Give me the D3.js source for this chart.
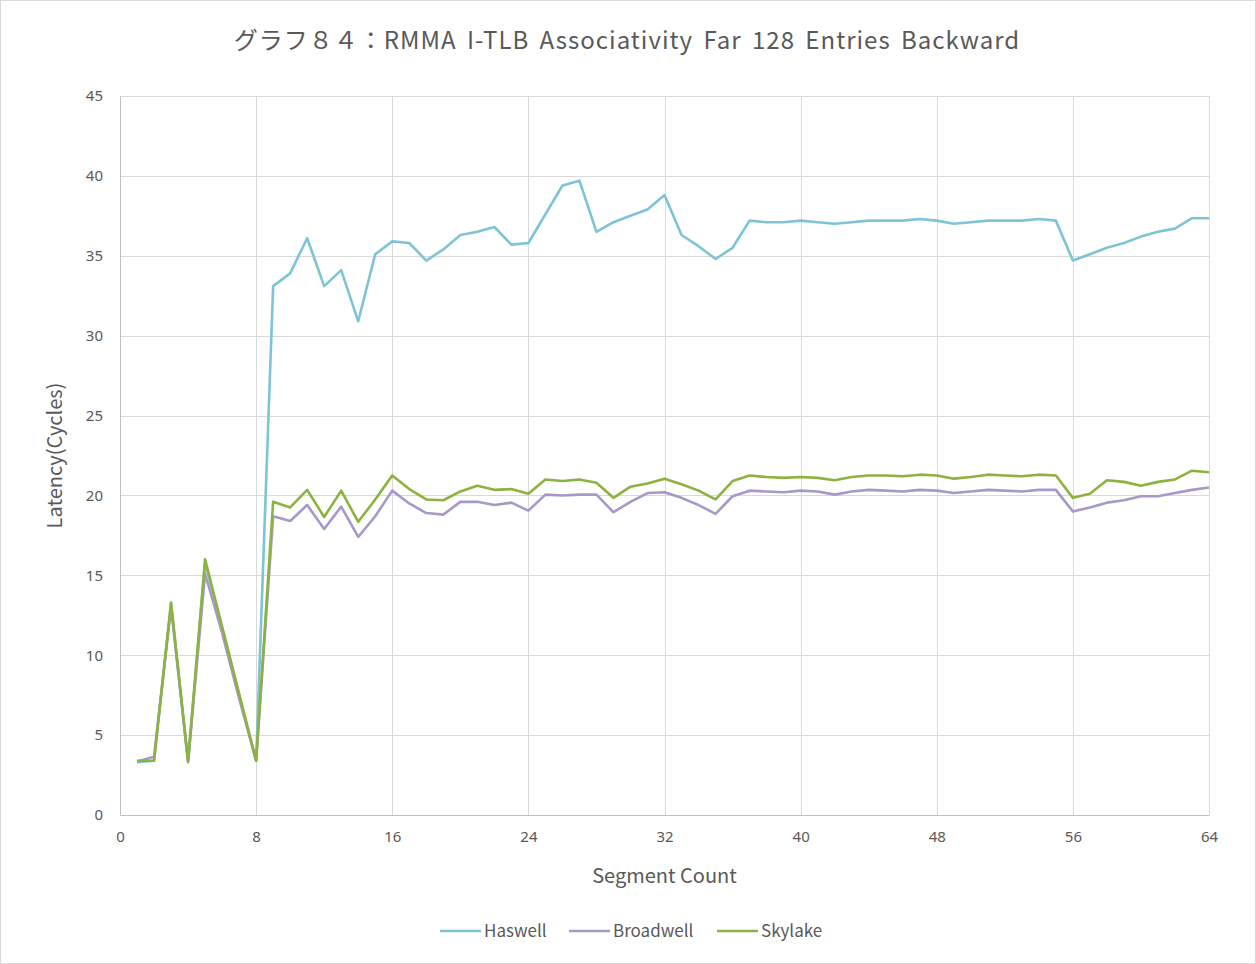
<!DOCTYPE html>
<html>
<head>
<meta charset="utf-8">
<script src="https://cdn.jsdelivr.net/npm/d3@7"></script>
<style>
  body { margin: 0; background: #fff; }
  svg { display: block; font-family: "Noto Sans CJK JP", "Noto Sans", sans-serif; }
</style>
</head>
<body>
<div id="chart"></div>
<script>
// Data
const segments = d3.range(1, 65);
const haswell = [3.3, 3.4, 13.2, 3.3, 15.8, 11.7, 7.5, 3.4,
  33.1, 33.9, 36.1, 33.1, 34.1, 30.9, 35.1, 35.9, 35.8, 34.7, 35.4, 36.3, 36.5, 36.8, 35.7, 35.8,
  37.6, 39.4, 39.7, 36.5, 37.1, 37.5, 37.9, 38.8, 36.3, 35.6, 34.8, 35.5, 37.2, 37.1, 37.1, 37.2,
  37.1, 37.0, 37.1, 37.2, 37.2, 37.2, 37.3, 37.2, 37.0, 37.1, 37.2, 37.2, 37.2, 37.3, 37.2, 34.7,
  35.1, 35.5, 35.8, 36.2, 36.5, 36.7, 37.35, 37.35];
const broadwell = [3.35, 3.65, 13.0, 3.35, 15.1, 11.4, 7.3, 3.4,
  18.7, 18.4, 19.4, 17.9, 19.3, 17.4, 18.7, 20.3, 19.5, 18.9, 18.8, 19.6, 19.6, 19.4, 19.55, 19.05,
  20.05, 20.0, 20.05, 20.05, 18.95, 19.6, 20.15, 20.2, 19.85, 19.4, 18.85, 19.95, 20.3, 20.25, 20.2, 20.3,
  20.25, 20.05, 20.25, 20.35, 20.3, 20.25, 20.35, 20.3, 20.15, 20.25, 20.35, 20.3, 20.25, 20.35, 20.35, 19.0,
  19.25, 19.55, 19.7, 19.95, 19.95, 20.15, 20.35, 20.5];
const skylake = [3.4, 3.4, 13.3, 3.35, 16.0, 11.8, 7.6, 3.4,
  19.6, 19.25, 20.35, 18.65, 20.3, 18.35, 19.75, 21.25, 20.4, 19.75, 19.7, 20.25, 20.6, 20.35, 20.4, 20.1,
  21.0, 20.9, 21.0, 20.8, 19.85, 20.55, 20.75, 21.05, 20.7, 20.3, 19.75, 20.9, 21.25, 21.15, 21.1, 21.15,
  21.1, 20.95, 21.15, 21.25, 21.25, 21.2, 21.3, 21.25, 21.05, 21.15, 21.3, 21.25, 21.2, 21.3, 21.25, 19.85,
  20.1, 20.95, 20.85, 20.6, 20.85, 21.0, 21.55, 21.45];
const seriesNames = ["Haswell", "Broadwell", "Skylake"];
const seriesColors = ["#7fc3d7", "#a898c8", "#8cb23f"];
const xTicks = [0, 8, 16, 24, 32, 40, 48, 56, 64];
const yTicks = [0, 5, 10, 15, 20, 25, 30, 35, 40, 45];

const W = 1256, H = 964;
const margin = { top: 96, right: 47, bottom: 149, left: 120 },
      width = W - margin.left - margin.right,
      height = H - margin.top - margin.bottom;

const svg = d3.select("#chart")
  .append("svg")
  .attr("width", W)
  .attr("height", H);

// outer border
svg.append("rect")
  .attr("x", 0.5).attr("y", 0.5)
  .attr("width", W - 1).attr("height", H - 1)
  .attr("fill", "#fff")
  .attr("stroke", "#d9d9d9");

const g = svg.append("g")
  .attr("transform", `translate(${margin.left},${margin.top})`);

const xScale = d3.scaleLinear().domain([0, 64]).range([0, width]);
const yScale = d3.scaleLinear().domain([0, 45]).range([height, 0]);

// gridlines
g.append("g")
  .selectAll("line.h")
  .data(yTicks.slice(1))
  .enter().append("line")
  .attr("x1", 0).attr("x2", width)
  .attr("y1", d => Math.round(yScale(d)) + 0.5)
  .attr("y2", d => Math.round(yScale(d)) + 0.5)
  .attr("stroke", "#d9d9d9");

g.append("g")
  .selectAll("line.v")
  .data(xTicks.slice(1))
  .enter().append("line")
  .attr("y1", 0).attr("y2", height)
  .attr("x1", d => Math.round(xScale(d)) + 0.5)
  .attr("x2", d => Math.round(xScale(d)) + 0.5)
  .attr("stroke", "#d9d9d9");

// X axis
const xAxis = g.append("g")
  .attr("transform", `translate(0,${height})`)
  .call(d3.axisBottom(xScale).tickValues(xTicks).tickSize(0).tickPadding(16));
xAxis.select(".domain").attr("stroke", "#bfbfbf");
xAxis.selectAll("text").attr("fill", "#595959").style("font-size", "15px")
  .style("font-family", "'Noto Sans', sans-serif");

// Y axis
const yAxis = g.append("g")
  .call(d3.axisLeft(yScale).tickValues(yTicks).tickSize(0).tickPadding(17));
yAxis.select(".domain").attr("stroke", "#bfbfbf");
yAxis.selectAll("text").attr("fill", "#595959").style("font-size", "15px")
  .style("font-family", "'Noto Sans', sans-serif");

// lines
const allSeries = [haswell, broadwell, skylake];
const line = d3.line()
  .x((d, i) => xScale(segments[i]))
  .y(d => yScale(d));

g.selectAll(".series")
  .data(allSeries)
  .enter().append("path")
  .attr("class", "series")
  .attr("d", d => line(d))
  .attr("fill", "none")
  .attr("stroke", (d, i) => seriesColors[i])
  .attr("stroke-width", 2.6)
  .attr("stroke-linejoin", "round");

// title
svg.append("text")
  .attr("x", 627).attr("y", 49)
  .attr("text-anchor", "middle")
  .attr("fill", "#595959")
  .style("font-size", "24px")
  .style("letter-spacing", "1px")
  .style("word-spacing", "4px")
  .text("グラフ８４：RMMA I-TLB Associativity Far 128 Entries Backward");

// axis titles
svg.append("text")
  .attr("x", margin.left + width / 2).attr("y", 883)
  .attr("text-anchor", "middle")
  .attr("fill", "#595959")
  .style("font-size", "20px")
  .text("Segment Count");

svg.append("text")
  .attr("transform", `translate(62,${margin.top + height / 2}) rotate(-90)`)
  .attr("text-anchor", "middle")
  .attr("fill", "#595959")
  .style("font-size", "20px")
  .text("Latency(Cycles)");

// legend
const legendX = [440, 569, 717];
const legend = svg.append("g");
seriesNames.forEach((name, i) => {
  legend.append("line")
    .attr("x1", legendX[i]).attr("x2", legendX[i] + 41)
    .attr("y1", 931).attr("y2", 931)
    .attr("stroke", seriesColors[i])
    .attr("stroke-width", 2.6);
  legend.append("text")
    .attr("x", legendX[i] + 44).attr("y", 937)
    .attr("fill", "#595959")
    .style("font-size", "17px")
    .text(name);
});
</script>
</body>
</html>
